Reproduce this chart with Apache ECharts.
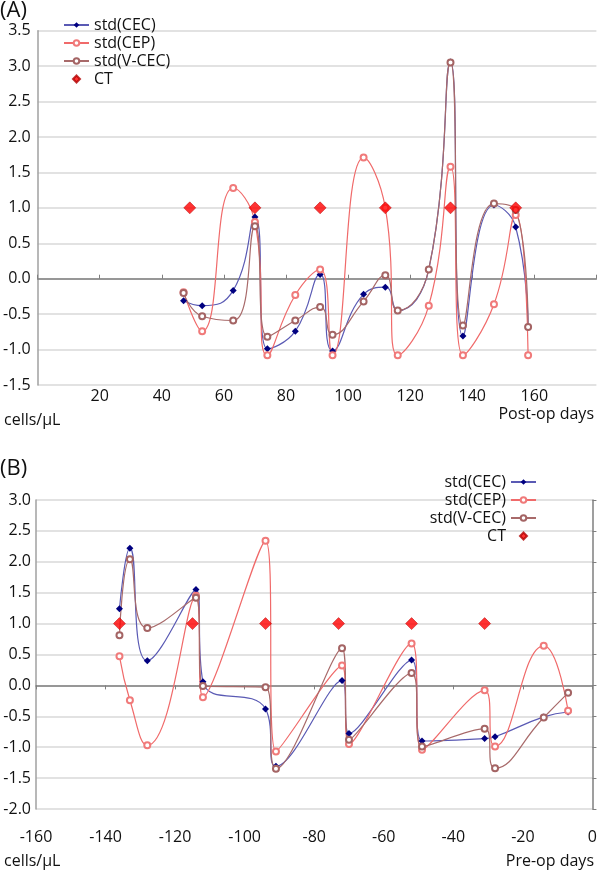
<!DOCTYPE html>
<html>
<head>
<meta charset="utf-8">
<script src="https://cdn.jsdelivr.net/npm/echarts@6/dist/echarts.min.js"></script>
<style>html,body{margin:0;padding:0;background:#fff}#c{width:600px;height:874px}</style>
</head>
<body>
<div id="c"></div>
<script>
// Panel A (post-op)
const aDays = [47, 53, 63, 70, 74, 83, 91, 95, 105, 112, 116, 126, 133, 137, 147, 154, 158];
const aCEC  = [-0.31, -0.38, -0.165, 0.87, -0.99, -0.74, 0.06, -1.02, -0.22, -0.12, -0.45, 0.13, 3.06, -0.81, 1.04, 0.73, -0.68];
const aCEP  = [-0.19, -0.74, 1.28, 0.80, -1.08, -0.23, 0.13, -1.08, 1.71, 1.00, -1.08, -0.38, 1.58, -1.08, -0.36, 0.90, -1.08];
const aVCEC = [-0.20, -0.53, -0.59, 0.74, -0.82, -0.59, -0.40, -0.79, -0.32, 0.05, -0.45, 0.13, 3.05, -0.66, 1.06, 0.97, -0.68];
const aCTDays = [49, 70, 91, 112, 133, 154];
const aCTVal  = [1, 1, 1, 1, 1, 1];
// Panel B (pre-op)
const bDays = [-136, -133, -128, -114, -112, -94, -91, -72, -70, -52, -49, -31, -28, -14, -7];
const bCEC  = [1.24, 2.22, 0.40, 1.55, 0.06, -0.38, -1.31, 0.08, -0.78, 0.41, -0.90, -0.86, -0.83, -0.51, -0.43];
const bCEP  = [0.47, -0.24, -0.97, 1.45, -0.19, 2.34, -1.07, 0.32, -0.95, 0.68, -1.04, -0.08, -0.99, 0.64, -0.41];
const bVCEC = [0.81, 2.04, 0.93, 1.42, -0.01, -0.03, -1.35, 0.60, -0.88, 0.20, -0.99, -0.70, -1.34, -0.52, -0.12];
const bCTDays = [-136, -115, -94, -73, -52, -31];
const bCTVal  = [1, 1, 1, 1, 1, 1];
const seriesNames = ['std(CEC)', 'std(CEP)', 'std(V-CEC)', 'CT'];

const zip = (xs, ys) => xs.map((x, i) => [x, ys[i]]);
const FONT = 'Open Sans';
const grid0 = {left: 35.3, right: 3.6, top: 30.7, height: 354.3};
const grid1 = {left: 36, right: 7.4, top: 500, height: 309};

function lineSeries(name, data, xi, yi, kind) {
  const styles = {
    cec: {line: '#5a5ab4', sym: 'diamond', size: 7, color: '#000080'},
    cep: {line: '#f06a6a', sym: 'emptyCircle', size: 6, color: '#f07a7a'},
    vcec: {line: '#a86a6a', sym: 'emptyCircle', size: 6, color: '#a46464'}
  }[kind];
  return {
    name, type: 'line', data, xAxisIndex: xi, yAxisIndex: yi,
    smooth: 0.5, symbol: styles.sym, symbolSize: styles.size, showSymbol: true,
    lineStyle: {color: styles.line, width: 1.2},
    itemStyle: {color: styles.color, borderWidth: 1},
    z: 3, animation: false
  };
}
function ctSeries(data, xi, yi) {
  return {
    name: 'CT', type: 'scatter', data, xAxisIndex: xi, yAxisIndex: yi,
    symbol: 'diamond', symbolSize: 12,
    itemStyle: {color: '#ff0000', borderColor: '#b00000', borderWidth: 0.6},
    z: 5, animation: false
  };
}

const labelStyle = {color: '#111', fontSize: 16, fontFamily: FONT};
const legendData = [
  {name: 'std(CEC)'}, {name: 'std(CEP)'}, {name: 'std(V-CEC)'},
  {name: 'CT', icon: 'path://M5,0 L10,5 L5,10 L0,5 Z'}
];

const option = {
  animation: false,
  textStyle: {fontFamily: FONT},
  grid: [grid0, grid1],
  xAxis: [
    {gridIndex: 0, type: 'value', position: 'bottom', min: 0, max: 180, interval: 20,
     axisLine: {onZero: true, lineStyle: {color: '#7f7f7f', width: 1.5}},
     axisTick: {show: true, inside: true, length: 4, lineStyle: {color: '#7f7f7f'}},
     axisLabel: {show: false}, splitLine: {show: false}},
    {gridIndex: 0, type: 'value', position: 'bottom', min: 0, max: 180, interval: 20,
     axisLine: {show: false, onZero: false}, axisTick: {show: false}, splitLine: {show: false},
     axisLabel: Object.assign({margin: 3, formatter: v => (v === 0 || v === 180) ? '' : String(v)}, labelStyle)},
    {gridIndex: 1, type: 'value', position: 'bottom', min: -160, max: 0, interval: 20,
     axisLine: {onZero: true, lineStyle: {color: '#7f7f7f', width: 1.5}},
     axisTick: {show: true, inside: false, length: 4, lineStyle: {color: '#7f7f7f'}},
     axisLabel: {show: false}, splitLine: {show: false}},
    {gridIndex: 1, type: 'value', position: 'bottom', min: -160, max: 0, interval: 20,
     axisLine: {show: false, onZero: false}, axisTick: {show: false}, splitLine: {show: false},
     axisLabel: Object.assign({margin: 20, formatter: v => String(v)}, labelStyle)}
  ],
  yAxis: [
    {gridIndex: 0, type: 'value', position: 'left', min: -1.5, max: 3.5, interval: 0.5,
     axisLine: {show: true, onZero: false, lineStyle: {color: '#a0a0a0', width: 1.5}},
     axisTick: {show: false},
     axisLabel: Object.assign({margin: 7, formatter: v => v.toFixed(1)}, labelStyle),
     splitLine: {show: true, lineStyle: {color: '#d9d9d9', width: 1.5}}},
    {gridIndex: 1, type: 'value', min: -2, max: 3, interval: 0.5, position: 'left',
     axisLine: {show: true, onZero: false, lineStyle: {color: '#a0a0a0', width: 1.5}},
     axisTick: {show: false},
     axisLabel: Object.assign({margin: 5, formatter: v => v.toFixed(1)}, labelStyle),
     splitLine: {show: true, lineStyle: {color: '#d9d9d9', width: 1.5}}},
    {gridIndex: 1, type: 'value', min: -2, max: 3, interval: 0.5, position: 'right',
     axisLine: {show: true, onZero: false, lineStyle: {color: '#7f7f7f', width: 1.5}},
     axisTick: {show: true, inside: false, length: 4, lineStyle: {color: '#7f7f7f'}},
     axisLabel: {show: false}, splitLine: {show: false}}
  ],
  legend: [
    {orient: 'vertical', left: 58, top: 12, itemGap: 2, itemWidth: 25, itemHeight: 7,
     symbolKeepAspect: true,
     data: legendData, textStyle: {fontSize: 16, color: '#111', fontFamily: FONT},
     selectedMode: false},
    {orient: 'vertical', right: 58, top: 469, itemGap: 2, itemWidth: 25, itemHeight: 7, align: 'right',
     symbolKeepAspect: true,
     data: legendData, textStyle: {fontSize: 16, color: '#111', fontFamily: FONT},
     selectedMode: false}
  ],
  graphic: [
    {type: 'text', left: 0, top: 0, style: {text: '(A)', fontSize: 22, fill: '#111', fontFamily: FONT}},
    {type: 'text', left: 4, top: 412, style: {text: 'cells/µL', fontSize: 16, fill: '#111', fontFamily: FONT}},
    {type: 'text', right: 6, top: 406, style: {text: 'Post-op days', fontSize: 16, fill: '#111', fontFamily: FONT}},
    {type: 'text', left: 0, top: 458, style: {text: '(B)', fontSize: 22, fill: '#111', fontFamily: FONT}},
    {type: 'text', left: 4, top: 853, style: {text: 'cells/µL', fontSize: 16, fill: '#111', fontFamily: FONT}},
    {type: 'text', right: 6, top: 853, style: {text: 'Pre-op days', fontSize: 16, fill: '#111', fontFamily: FONT}}
  ],
  series: [
    lineSeries('std(CEC)', zip(aDays, aCEC), 0, 0, 'cec'),
    lineSeries('std(CEP)', zip(aDays, aCEP), 0, 0, 'cep'),
    lineSeries('std(V-CEC)', zip(aDays, aVCEC), 0, 0, 'vcec'),
    ctSeries(zip(aCTDays, aCTVal), 0, 0),
    lineSeries('std(CEC)', zip(bDays, bCEC), 2, 1, 'cec'),
    lineSeries('std(CEP)', zip(bDays, bCEP), 2, 1, 'cep'),
    lineSeries('std(V-CEC)', zip(bDays, bVCEC), 2, 1, 'vcec'),
    ctSeries(zip(bCTDays, bCTVal), 2, 1)
  ]
};
const chart = echarts.init(document.getElementById('c'), null, {renderer: 'canvas'});
chart.setOption(option);
</script>
</body>
</html>
